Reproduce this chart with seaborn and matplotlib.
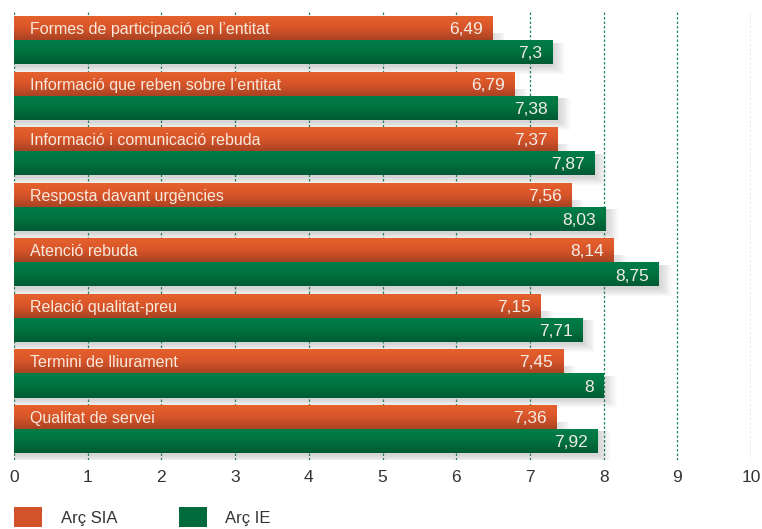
import numpy as np
import pandas as pd
import matplotlib
matplotlib.use("Agg")
import matplotlib.pyplot as plt
from matplotlib.patches import Patch
from matplotlib.colors import LinearSegmentedColormap
import seaborn as sns

categories = [
    "Formes de participació en l’entitat",
    "Informació que reben sobre l’entitat",
    "Informació i comunicació rebuda",
    "Resposta davant urgències",
    "Atenció rebuda",
    "Relació qualitat-preu",
    "Termini de lliurament",
    "Qualitat de servei",
]
series_names = ["Arç SIA", "Arç IE"]
sia_values = [6.49, 6.79, 7.37, 7.56, 8.14, 7.15, 7.45, 7.36]
ie_values = [7.3, 7.38, 7.87, 8.03, 8.75, 7.71, 8, 7.92]
x_ticks = [0, 1, 2, 3, 4, 5, 6, 7, 8, 9, 10]

df = pd.DataFrame({
    "cat": categories * 2,
    "serie": [series_names[0]] * len(categories) + [series_names[1]] * len(categories),
    "val": sia_values + ie_values,
})

sns.set_theme(style="white")
plt.rcParams['font.family'] = ['Liberation Sans', 'DejaVu Sans']

fig = plt.figure(figsize=(7.62, 5.29), dpi=100)
ax = fig.add_axes([14/762, 69/529, 737/762, 450/529])

orange = "#E05A28"
green = "#007A45"
sns.barplot(data=df, y="cat", x="val", hue="serie", orient="h",
            palette=[orange, green], width=0.87, ax=ax, legend=False,
            saturation=1, edgecolor="none", zorder=3)

# gradients
grad_o = LinearSegmentedColormap.from_list("go", ["#E6622C", "#D9562A", "#A94223"])
grad_g = LinearSegmentedColormap.from_list("gg", ["#007F49", "#00733F", "#005A33"])
grad = np.linspace(0, 1, 64).reshape(-1, 1)
for cont, cmap in zip(ax.containers, [grad_o, grad_g]):
    for p in cont.patches:
        x0, y0, w, h = p.get_x(), p.get_y(), p.get_width(), p.get_height()
        im = ax.imshow(grad, cmap=cmap, aspect="auto", origin="upper",
                       extent=(x0, x0 + w, y0 + h, y0), zorder=3.5,
                       interpolation="bicubic")
        im.set_clip_path(p)

# soft drop shadows for each pair
n_layers = 14
for i, (a, b) in enumerate(zip(sia_values, ie_values)):
    top = i - 0.435 + 0.06
    bot = i + 0.435 + 0.04
    for k in range(n_layers):
        gx = 0.012 * k
        gy = 0.011 * k
        ax.add_patch(plt.Rectangle((0, top + 0.25), a + 0.02 + gx, 0.2 + gy,
                                   facecolor="#707070", alpha=0.014, edgecolor="none", zorder=2.5))
        ax.add_patch(plt.Rectangle((0, top + 0.42), b + 0.02 + gx, (bot - top - 0.42) + gy,
                                   facecolor="#707070", alpha=0.018, edgecolor="none", zorder=2.5))

# value labels
for cont, vals in zip(ax.containers, [sia_values, ie_values]):
    labs = [f"{v:g}".replace(".", ",") for v in vals]
    texts = ax.bar_label(cont, labels=labs, padding=-7, color="#F3EDE6", fontsize=12.5)
    for t in texts:
        t.set_ha("right")
        t.set_va("center")
        t.set_zorder(6)
        x, y = t.xy
        t.xy = (x, y + 0.03)

# category labels inside orange bars
for i, c in enumerate(categories):
    ax.text(0.22, i - 0.19, c, ha="left", va="center", color="#F7E9DC", fontsize=11.5, zorder=6)

ax.set_xlim(0, 10)
ax.set_ylim(7.56, -0.543)
ax.set_xticks(x_ticks)
ax.set_xticklabels([str(t) for t in x_ticks], fontsize=12.5, color="#333333")
ax.set_yticks([])
ax.set_xlabel("")
ax.set_ylabel("")
ax.tick_params(axis="x", length=0, pad=7)
for s in ax.spines.values():
    s.set_visible(False)
for t in x_ticks:
    ax.axvline(t, color="#1E8A58", lw=0.9, ls=(0, (2, 1.6)), zorder=1)

handles = [Patch(facecolor="#D2522A", edgecolor="none"), Patch(facecolor="#006A3D", edgecolor="none")]
leg = fig.legend(handles, series_names, loc="lower left", bbox_to_anchor=(14/762, 2/529),
                 ncol=2, frameon=False, fontsize=12, borderpad=0, borderaxespad=0,
                 handlelength=1.7, handleheight=1.45, handletextpad=1.1, columnspacing=3.7,
                 labelcolor="#333333")

fig.savefig("out.png", dpi=100)
